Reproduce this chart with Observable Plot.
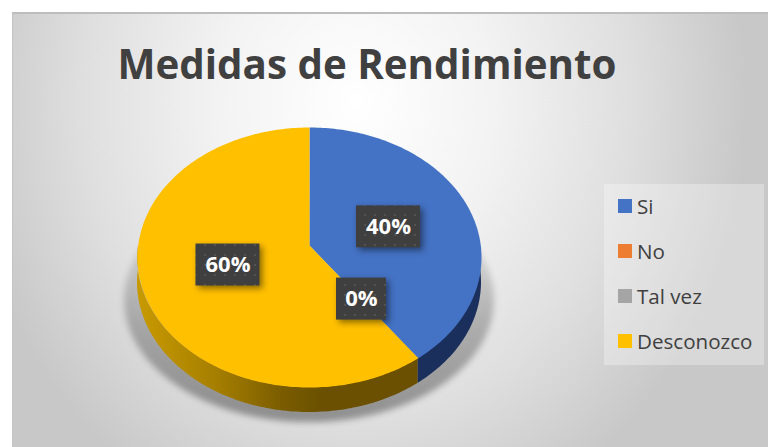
<!DOCTYPE html>
<html><head><meta charset="utf-8">
<script src="https://cdn.jsdelivr.net/npm/d3@7"></script>
<script src="https://cdn.jsdelivr.net/npm/@observablehq/plot@0.6"></script>
<style>
html,body{margin:0;padding:0;background:#fff;width:768px;height:447px;overflow:hidden}
#wrap{position:relative;width:768px;height:447px;font-family:"Open Sans",sans-serif}
#bg{position:absolute;left:12px;top:12px;right:0;bottom:0;border-top:2px solid #bdbdbd;border-left:1px solid #c4c4c4;box-sizing:border-box;
background:radial-gradient(ellipse 390px 450px at 343px 88px,#ffffff 0%,#f3f3f3 35%,#dfdfdf 70%,#c8c8c8 100%)}
#chart{position:absolute;left:0;top:0}
#chart svg{background:transparent}
#title{position:absolute;left:0;width:734px;top:36px;text-align:center;font-weight:700;font-size:40.3px;line-height:56px;color:#404040;white-space:nowrap}
#legend{position:absolute;left:604px;top:184px;width:160px;height:181px;background:rgba(255,255,255,.3)}
.row{position:absolute;left:14px;height:24px;display:flex;align-items:center;color:#404040;font-size:20.6px;white-space:nowrap}
.sw{width:14px;height:14px;margin-right:5px;flex:none}
</style></head>
<body>
<div id="wrap"><div id="bg"></div><div id="chart"></div>
<div id="title"></div><div id="legend"></div></div>
<script>
const titleText = "Medidas de Rendimiento";
const categories = ["Si", "No", "Tal vez", "Desconozco"];
const values = [40, 0, 0, 60];
const labels = ["40%", "0%", "0%", "60%"];
const colors = ["#4472c4", "#ed7d31", "#a5a5a5", "#ffc000"];
const labelNudgeX = [-0.064, -0.021, -0.021, 0.049];
const labelNudgeY = [0.066, 0.125, 0.125, 0.112];

const cx = 309, cy = 257, rx = 172, ry = 130, W = 768, H = 447;
const tilt = 0.092, depth = 25 / ry, deg = Math.PI / 180;

// Circle seen in perspective: the pie's apex sits above the ellipse's centre.
const rim = t => {
  const u = Math.sin(t), v = Math.cos(t), d = 1 + tilt * v;
  return [u * Math.sqrt(1 - tilt * tilt) / d, (v + tilt) / d];
};
const arcs = d3.pie().sort(null).value(d => d)(values);
const sample = (a, b) => {
  const n = Math.max(2, Math.ceil((b - a) / deg));
  return d3.range(n + 1).map(i => a + (b - a) * i / n);
};

const top3d = arcs.flatMap((a, i) => values[i] === 0 ? [] : [
  {category: categories[i], x: 0, y: tilt},
  ...sample(a.startAngle, a.endAngle).map(t => {
    const [x, y] = rim(t);
    return {category: categories[i], x, y};
  })
]);
const wall = i => {
  const a = Math.max(arcs[i].startAngle, Math.PI / 2), b = Math.min(arcs[i].endAngle, 3 * Math.PI / 2);
  return sample(a, b).map(t => { const [x, y] = rim(t); return {x, y1: y, y2: y - depth}; });
};
const shadow = sample(-Math.PI / 2, Math.PI / 2).map(t => {
  const u = Math.sin(t), v = Math.cos(t);
  return {x: u * 1.075, y1: -0.33 + v * 0.94, y2: -0.33 - v * 0.94};
});

const shown = arcs.map((a, i) => {
  const mid = (a.startAngle + a.endAngle) / 2;
  const x = Math.sin(mid) * 0.55 + labelNudgeX[i];
  const y = Math.cos(mid) * 0.55 + labelNudgeY[i];
  const hw = (labels[i].length === 2 ? 25 : 32) / rx, hh = 21 / ry;
  return {label: labels[i], x, y, x1: x - hw, x2: x + hw, y1: y - hh, y2: y + hh};
}).filter((d, i, all) => all.findIndex(e => e.label === d.label) === i);

const defs = () => d3.create("svg:defs").html(`
  <linearGradient id="sideYellow" x1="0" x2="1" y1="0" y2="0">
    <stop offset="0" stop-color="#c89a00"/><stop offset=".28" stop-color="#a67f00"/>
    <stop offset=".52" stop-color="#7a5c00"/><stop offset=".66" stop-color="#6a5000"/>
    <stop offset="1" stop-color="#6a5000"/>
  </linearGradient>
  <linearGradient id="shadowFade" x1="0" x2="0" y1="0" y2="1">
    <stop offset="0" stop-color="#000" stop-opacity="0"/><stop offset=".3" stop-color="#000" stop-opacity=".1"/>
    <stop offset=".6" stop-color="#000" stop-opacity=".24"/><stop offset="1" stop-color="#000" stop-opacity=".36"/>
  </linearGradient>
  <pattern id="dots" width="10" height="10" patternUnits="userSpaceOnUse">
    <rect width="10" height="10" fill="#3f3f3f"/><circle cx="5" cy="5" r="1.1" fill="#565656"/>
  </pattern>`).node();

const chart = Plot.plot({
  width: W, height: H, margin: 0,
  x: {domain: [-cx / rx, (W - cx) / rx], range: [0, W], axis: null},
  y: {domain: [cy / ry, (cy - H) / ry], range: [0, H], axis: null},
  color: {domain: categories, range: colors},
  style: {background: "transparent"},
  marks: [
    defs,
    Plot.areaY(shadow, {x: "x", y1: "y1", y2: "y2", fill: "url(#shadowFade)", imageFilter: "blur(3px)"}),
    Plot.areaY(wall(3), {x: "x", y1: "y1", y2: "y2", fill: "url(#sideYellow)"}),
    Plot.areaY(wall(0), {x: "x", y1: "y1", y2: "y2", fill: "#1b2f5c"}),
    Plot.line(top3d, {x: "x", y: "y", z: "category", fill: "category", stroke: null}),
    Plot.rect(shown, {x1: "x1", x2: "x2", y1: "y1", y2: "y2", fill: "url(#dots)", imageFilter: "drop-shadow(3px 3px 3px rgba(0,0,0,.45))"}),
    Plot.text(shown, {x: "x", y: "y", text: "label", fill: "#fff", fontSize: 22, fontWeight: 700, fontFamily: "Open Sans"})
  ]
});
document.getElementById("chart").append(chart);
document.getElementById("title").textContent = titleText;
const legend = document.getElementById("legend");
categories.forEach((c, i) => {
  const row = document.createElement("div");
  row.className = "row";
  row.style.top = (10 + i * 45) + "px";
  const sw = document.createElement("span");
  sw.className = "sw"; sw.style.background = colors[i];
  row.append(sw, c);
  legend.append(row);
});
</script>
</body></html>
